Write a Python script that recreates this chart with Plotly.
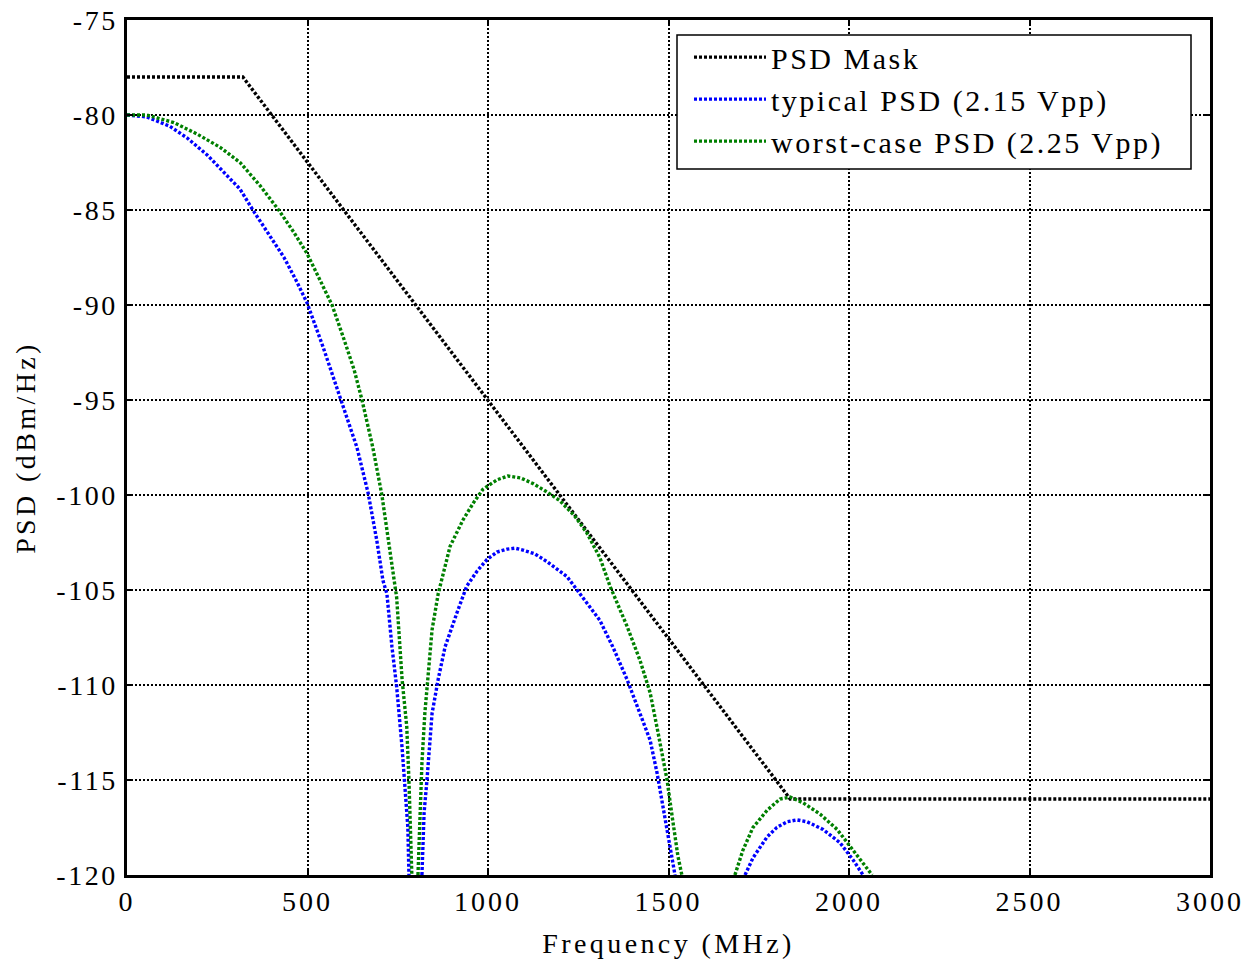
import plotly.graph_objects as go

# ---- data ----
mask_freq = [0, 321, 1837, 3000]
mask_psd = [-78, -78, -116, -116]

typ_freq = [0, 55, 119, 166, 222, 277, 313, 352, 396, 435, 471, 499, 543, 590, 637, 668, 692,
            709, 720, 734, 747, 762, 770, 778, 781, None,
            817, 823, 831, 845, 862, 881, 914, 941, 970, 997, 1025, 1053, 1075, 1097, 1130, 1163,
            1219, 1263, 1310, 1346, 1385, 1421, 1449, 1468, 1485, 1499, 1518, None,
            1712, 1734, 1773, 1800, 1828, 1856, 1884, 1928, 1975, 2011, 2039]
typ_psd = [-80, -80.1, -80.6, -81.2, -82.1, -83.2, -83.9, -85.1, -86.4, -87.5, -88.8, -89.9, -92.2,
           -94.8, -97.5, -99.9, -102.4, -104.5, -105.2, -108.0, -110.1, -113.3, -115.5, -117.5, -120, None,
           -120, -116.7, -115.0, -111.5, -109.7, -108.0, -106.2, -104.8, -104.0, -103.4, -103.0, -102.85,
           -102.8, -102.9, -103.1, -103.5, -104.3, -105.4, -106.6, -108.0, -109.7, -111.5, -112.9,
           -114.6, -116.4, -118.0, -120, None,
           -120, -119.1, -118.0, -117.5, -117.2, -117.1, -117.2, -117.6, -118.3, -119.2, -120]

wc_freq = [0, 55, 130, 194, 258, 313, 368, 424, 463, 499, 535, 568, 601, 629, 651, 681, 706, 728,
           747, 762, 775, 781, 789, None,
           806, 812, 817, 825, 834, 845, 862, 895, 931, 960, 986, 1025, 1055, 1090, 1125, 1160, 1199,
           1240, 1274, 1310, 1338, 1385, 1421, 1449, 1471, 1485, 1496, 1510, 1526, 1537, None,
           1684, 1706, 1734, 1773, 1809, 1837, 1873, 1920, 1967, 2011, 2039, 2064]
wc_psd = [-80, -80, -80.4, -81.0, -81.7, -82.5, -83.7, -85.1, -86.2, -87.3, -88.7, -90.0, -91.8,
          -93.4, -95.0, -97.5, -100.0, -103.0, -105.4, -109.7, -112.2, -115.0, -120, None,
          -120, -116.7, -114.1, -111.5, -109.7, -107.1, -105.2, -102.7, -101.3, -100.4, -99.7, -99.2,
          -99.0, -99.1, -99.4, -99.8, -100.3, -101.1, -102.0, -103.3, -104.8, -106.9, -108.7, -110.4,
          -112.5, -114.0, -115.0, -116.9, -119.0, -120, None,
          -120, -118.7, -117.5, -116.6, -116.0, -115.9, -116.2, -116.8, -117.6, -118.7, -119.4, -120]

x_ticks = [0, 500, 1000, 1500, 2000, 2500, 3000]
y_ticks = [-75, -80, -85, -90, -95, -100, -105, -110, -115, -120]

FONT = "Liberation Serif"
DASH = "3px,2px"

fig = go.Figure()
fig.add_trace(go.Scatter(x=mask_freq, y=mask_psd, mode="lines", name="PSD Mask",
                         line=dict(color="black", width=3.4, dash=DASH), legendgroup="a"))
fig.add_trace(go.Scatter(x=typ_freq, y=typ_psd, mode="lines", name="typical PSD (2.15 Vpp)",
                         line=dict(color="#0000ff", width=3.4, dash=DASH), legendgroup="b",
                         connectgaps=False))
fig.add_trace(go.Scatter(x=wc_freq, y=wc_psd, mode="lines", name="worst-case PSD (2.25 Vpp)",
                         line=dict(color="#008000", width=3.4, dash=DASH), legendgroup="c",
                         connectgaps=False))

axis_common = dict(
    showline=True, linecolor="black", linewidth=2.5, mirror="ticks",
    ticks="inside", ticklen=6, tickwidth=1.5, tickcolor="black",
    showgrid=True, gridcolor="black", gridwidth=1.6, griddash="2px,2px",
    zeroline=False, automargin=False,
    tickfont=dict(family=FONT, size=28, color="black"),
)

fig.update_xaxes(range=[0, 3000], tickvals=x_ticks, ticktext=[str(v) for v in x_ticks],
                 ticklabelstandoff=0,
                 title=dict(text="Frequency (MHz)", font=dict(family=FONT, size=28, color="black"),
                            standoff=18),
                 **axis_common)
fig.update_yaxes(range=[-120, -75], tickvals=y_ticks, ticktext=[str(v) for v in y_ticks],
                 ticklabelstandoff=1,
                 title=dict(text="PSD (dBm/Hz)", font=dict(family=FONT, size=28, color="black"),
                            standoff=23),
                 **axis_common)

# legend frame (white box with black border), legend itself drawn transparent on top
fig.add_shape(type="rect", xref="paper", yref="paper",
              x0=(677 - 127) / 1083, x1=(1191 - 127) / 1083,
              y0=1 - (169 - 20) / 855, y1=1 - (35 - 20) / 855,
              line=dict(color="black", width=1.5), fillcolor="white", layer="above")

fig.update_layout(
    width=1248, height=962,
    margin=dict(l=127, r=38, t=20, b=87),
    plot_bgcolor="white", paper_bgcolor="white",
    font=dict(family=FONT, color="black"),
    legend=dict(x=(689 - 127) / 1083, y=0.987, xanchor="left", yanchor="top",
                bgcolor="rgba(0,0,0,0)", borderwidth=0,
                font=dict(family=FONT, size=30, color="black"),
                itemwidth=72, tracegroupgap=0, traceorder="grouped"),
    showlegend=True,
)

post = """
var gd = document.getElementById('{plot_id}');
function applySpacing(){
  gd.querySelectorAll('g.xtick text').forEach(function(t){t.style.letterSpacing='3px';});
  gd.querySelectorAll('g.ytick text').forEach(function(t){t.style.letterSpacing='2.5px';});
  gd.querySelectorAll('text.xtitle, text.ytitle').forEach(function(t){t.style.letterSpacing='3.4px';});
  gd.querySelectorAll('text.legendtext').forEach(function(t){t.style.letterSpacing='2.5px';});
  gd.querySelectorAll('.legend [clip-path]').forEach(function(e){e.removeAttribute('clip-path');});
  gd.querySelectorAll('.legend').forEach(function(e){e.style.overflow='visible';});
}
applySpacing();
if (gd.on) { gd.on('plotly_afterplot', applySpacing); }
setTimeout(applySpacing, 50);
"""

fig.write_html("out.html", post_script=post)
